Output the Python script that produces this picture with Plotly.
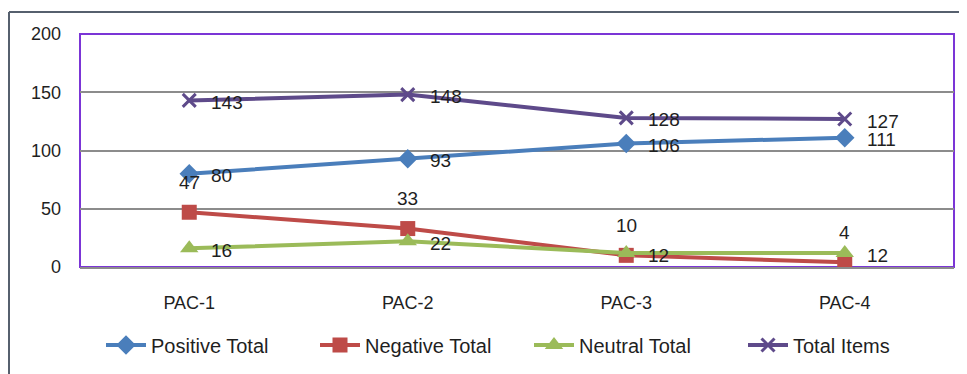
import plotly.graph_objects as go

categories = ["PAC-1", "PAC-2", "PAC-3", "PAC-4"]
positive_total = [80, 93, 106, 111]
negative_total = [47, 33, 10, 4]
neutral_total = [16, 22, 12, 12]
total_items = [143, 148, 128, 127]
y_ticks = [0, 50, 100, 150, 200]

# page body adds an 8px offset; figure coords = reference coords - 8
OFF = 8
W, H = 967 - OFF, 374 - OFF
ML = 80 - OFF
MT = 34 - OFF
MR = W - (954 - OFF)
MB = H - (267 - OFF)
PW, PH = W - ML - MR, H - MT - MB

series = [
    ("Positive Total", positive_total, "#4A7EBB", "diamond", 15, "right"),
    ("Negative Total", negative_total, "#BE4B48", "square", 15, "above"),
    ("Neutral Total", neutral_total, "#9BBB59", "triangle-up", 16, "right"),
    ("Total Items", total_items, "#5E4A8A", "x-thin", 13, "right"),
]

fig = go.Figure()
annotations = []
FONT = "Liberation Sans, Arial, sans-serif"
TXT = "#1f1f1f"
for name, vals, color, sym, size, pos in series:
    marker = dict(symbol=sym, size=size, color=color)
    if sym == "x-thin":
        marker["line"] = dict(color=color, width=3)
    fig.add_trace(go.Scatter(
        x=categories, y=vals, name=name, mode="lines+markers",
        line=dict(color=color, width=4), marker=marker,
    ))
    for c, v in zip(categories, vals):
        if pos == "right":
            annotations.append(dict(x=c, y=v, xref="x", yref="y", text=str(v),
                                    showarrow=False, xanchor="left", yanchor="middle",
                                    xshift=20, yshift=-2,
                                    font=dict(family=FONT, size=19, color=TXT)))
        else:
            annotations.append(dict(x=c, y=v, xref="x", yref="y", text=str(v),
                                    showarrow=False, xanchor="center", yanchor="middle",
                                    yshift=30,
                                    font=dict(family=FONT, size=19, color=TXT)))

FX = 9 - OFF   # outer frame left (fig px)
FY = 12 - OFF  # outer frame top (fig px)
shapes = [
    # plot area border (purple)
    dict(type="rect", xref="paper", yref="paper", x0=0, x1=1, y0=0, y1=1,
         line=dict(color="#7B35D6", width=2), layer="below"),
    # outer chart frame (left and top)
    dict(type="line", xref="paper", yref="paper",
         x0=(FX - ML) / PW, x1=(FX - ML) / PW, y0=1 + (MT - FY) / PH, y1=-MB / PH - 0.1,
         line=dict(color="#56606E", width=2)),
    dict(type="line", xref="paper", yref="paper",
         x0=(FX - ML) / PW, x1=1 + MR / PW + 0.1, y0=1 + (MT - FY) / PH, y1=1 + (MT - FY) / PH,
         line=dict(color="#56606E", width=2)),
]

fig.update_layout(
    width=W, height=H,
    margin=dict(l=ML, r=MR, t=MT, b=MB, autoexpand=False),
    paper_bgcolor="white", plot_bgcolor="white",
    font=dict(family=FONT, size=18, color=TXT),
    showlegend=True,
    legend=dict(orientation="h", xref="container", yref="container",
                x=(103 - OFF - 2) / W, xanchor="left", y=1 - (345 - OFF) / H, yanchor="middle",
                font=dict(size=20, color=TXT),
                entrywidth=159, entrywidthmode="pixels", itemwidth=40,
                bgcolor="rgba(0,0,0,0)"),
    annotations=annotations,
    shapes=shapes,
    xaxis=dict(type="category", range=[-0.5, 3.5], showgrid=False, zeroline=False,
               showline=True, linecolor="#8C8C8C", linewidth=2, ticks="",
               ticklabelstandoff=18, tickfont=dict(size=18, color=TXT), fixedrange=True),
    yaxis=dict(range=[0, 200], tickvals=y_ticks, showgrid=True, gridcolor="#8C8C8C",
               gridwidth=2, zeroline=False, showline=False, ticks="",
               ticklabelstandoff=18, tickfont=dict(size=18, color=TXT), fixedrange=True),
)

fig.write_html("out.html")
